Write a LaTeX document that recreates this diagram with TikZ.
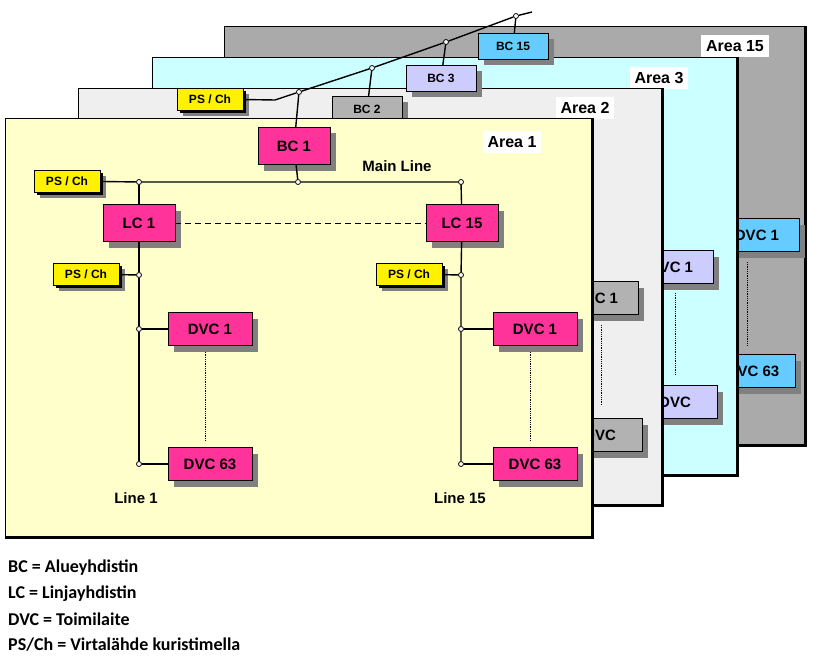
\documentclass[tikz,border=0pt]{standalone}
\usepackage{fontspec}
\setmainfont{Liberation Sans}
\newfontfamily\legendfont{Carlito}
\usetikzlibrary{shadows}

\definecolor{areaone}{RGB}{255,255,204}
\definecolor{areatwo}{RGB}{239,239,239}
\definecolor{areathree}{RGB}{204,255,255}
\definecolor{areafifteen}{RGB}{170,170,170}
\definecolor{pinkbox}{RGB}{255,51,153}
\definecolor{graybox}{RGB}{178,178,178}
\definecolor{lilacbox}{RGB}{204,204,255}
\definecolor{bluebox}{RGB}{102,204,255}

\tikzset{
  box/.style={draw, inner sep=0pt, font=\bfseries\fontsize{15}{15}\selectfont,
    drop shadow={shadow xshift=6pt, shadow yshift=-6pt, fill=black!50, opacity=1}},
  bc/.style={box, minimum width=70pt, minimum height=37pt},
  lc/.style={box, fill=pinkbox, minimum width=72pt, minimum height=37pt},
  dvc/.style={box, minimum width=84pt, minimum height=33pt},
  psch/.style={box, fill=yellow, minimum width=66pt, minimum height=22pt,
    font=\bfseries\fontsize{12}{12}\selectfont,
    drop shadow={shadow xshift=3pt, shadow yshift=-3pt, fill=black, opacity=1}},
  dot/.style={circle, draw, fill=white, thick, inner sep=0pt, minimum size=5pt},
  arealabel/.style={fill=white, inner sep=5pt, font=\bfseries\fontsize{16}{16}\selectfont},
  wire/.style={line width=1.4pt},
}

\newcommand{\panel}[5]{%
  \fill[#5] (#1,#2) rectangle (#3,#4);
  \draw (#1,#4) -- (#1,#2) -- (#3,#2);
  \draw[line width=3pt] (#3,#2) -- (#3,#4) -- (#1,#4);
}

\begin{document}
\begin{tikzpicture}[x=1pt, y=-1pt]
  \useasboundingbox (0,0) rectangle (819,658);

  % Area 15
  \panel{224}{26}{805}{445}{areafifteen}
  \node[arealabel] (a15) at (735,46) {Area 15};
  \node[dvc, fill=bluebox] (d15a) at (757,235) {DVC 1};
  \node[dvc, fill=bluebox] (d15b) at (753,371) {DVC 63};
  \draw[densely dotted, thick] (747,262) -- (747,345);

  % Area 3
  \panel{152}{57}{737}{475}{areathree}
  \node[arealabel] (a3) at (659,78) {Area 3};
  \node[dvc, fill=lilacbox] (d3a) at (671,267) {DVC 1};
  \node[dvc, fill=lilacbox] (d3b) at (675,402) {DVC};
  \draw[densely dotted, thick] (675,293) -- (675,375);

  % Area 2
  \panel{78}{88}{662}{505}{areatwo}
  \node[arealabel] (a2) at (585,108) {Area 2};
  \node[dvc, fill=graybox] (d2a) at (596,298) {DVC 1};
  \node[dvc, fill=graybox] (d2b) at (600,435) {DVC};
  \draw[densely dotted, thick] (601,325) -- (601,405);

  % backbone
  \node[bc, fill=bluebox, minimum height=26pt, font=\bfseries\fontsize{12}{12}\selectfont] (bc15) at (513,46) {BC 15};
  \node[bc, fill=lilacbox, minimum height=26pt, font=\bfseries\fontsize{12}{12}\selectfont] (bc3) at (441,78) {BC 3};
  \node[bc, fill=graybox, minimum height=26pt, font=\bfseries\fontsize{12}{12}\selectfont] (bc2) at (367,109) {BC 2};
  \node[psch] (ps0) at (210,99) {PS / Ch};
  \coordinate (k0) at (275,100);
  \coordinate (k5) at (532,12);
  \node[dot] (b1) at (299,92) {};
  \node[dot] (b2) at (372,68) {};
  \node[dot] (b3) at (446,42) {};
  \node[dot] (b15) at (516,16) {};
  \draw[wire] (ps0) -- (k0) -- (b1) -- (b2) -- (b3) -- (b15) -- (k5);
  \draw[wire] (b2) -- (bc2);
  \draw[wire] (b3) -- (bc3);
  \draw[wire] (b15) -- (bc15);

  % Area 1
  \panel{5}{118}{592}{537}{areaone}
  \node[arealabel] (a1) at (512,142) {Area 1};
  \node[lc] (bc1) at (294,146) {BC 1};
  \draw[wire] (b1) -- (bc1);
  \node[font=\bfseries\fontsize{15}{15}\selectfont] (main) at (397,166) {Main Line};

  \node[psch] (ps1) at (67,181) {PS / Ch};
  \node[dot] (m1) at (139,182) {};
  \node[dot] (m2) at (298,182) {};
  \node[dot] (m3) at (461,182) {};
  \draw[wire] (ps1) -- (m1) -- (m2) -- (m3);
  \draw[wire] (bc1) -- (m2);

  \node[lc] (lc1) at (139,223) {LC 1};
  \node[lc] (lc15) at (462,223) {LC 15};
  \draw[wire] (m1) -- (lc1);
  \draw[wire] (m3) -- (lc15);
  \draw[thick, dashed, dash pattern=on 6pt off 4pt] (lc1) -- (lc15);

  \node[psch] (ps2) at (86,274) {PS / Ch};
  \node[psch] (ps3) at (409,274) {PS / Ch};
  \node[dot] (p2) at (139,275) {};
  \node[dot] (p3) at (461,275) {};
  \draw[wire] (ps2) -- (p2);
  \draw[wire] (ps3) -- (p3);

  \node[dvc, fill=pinkbox] (d1a) at (210,329) {DVC 1};
  \node[dvc, fill=pinkbox] (d1b) at (210,464) {DVC 63};
  \node[dvc, fill=pinkbox] (d15a1) at (535,329) {DVC 1};
  \node[dvc, fill=pinkbox] (d15b1) at (535,464) {DVC 63};
  \node[dot] (l1a) at (139,329) {};
  \node[dot] (l1b) at (139,464) {};
  \node[dot] (l15a) at (461,329) {};
  \node[dot] (l15b) at (461,464) {};
  \draw[wire] (lc1) -- (p2) -- (l1a) -- (l1b);
  \draw[wire] (lc15) -- (p3) -- (l15a) -- (l15b);
  \draw[wire] (l1a) -- (d1a);
  \draw[wire] (l1b) -- (d1b);
  \draw[wire] (l15a) -- (d15a1);
  \draw[wire] (l15b) -- (d15b1);
  \draw[densely dotted, thick] (d1a.south -| 205,0) ++(0,6) -- (205,440);
  \draw[densely dotted, thick] (d15a1.south -| 530,0) ++(0,6) -- (530,440);

  \node[font=\bfseries\fontsize{15}{15}\selectfont] (line1) at (136,498) {Line 1};
  \node[font=\bfseries\fontsize{15}{15}\selectfont] (line15) at (460,498) {Line 15};

  % legend
  \begin{scope}[every node/.style={anchor=west, inner sep=0pt,
      font=\legendfont\bfseries\fontsize{18}{18}\selectfont}]
    \node (lg1) at (8,568) {BC = Alueyhdistin};
    \node (lg2) at (8,594) {LC = Linjayhdistin};
    \node (lg3) at (8,619) {DVC = Toimilaite};
    \node (lg4) at (8,645) {PS/Ch = Virtalähde kuristimella};
  \end{scope}
\end{tikzpicture}
\end{document}
